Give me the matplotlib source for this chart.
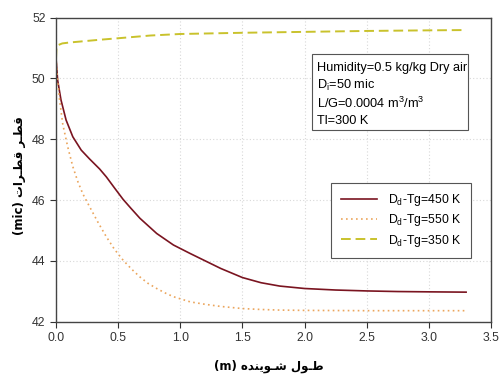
import matplotlib
matplotlib.use("Agg")
import matplotlib.pyplot as plt
from matplotlib.patches import Rectangle

plt.rcParams['font.family'] = ['Liberation Sans', 'DejaVu Sans']
plt.rcParams['mathtext.fontset'] = 'custom'
plt.rcParams['mathtext.rm'] = 'Liberation Sans'
plt.rcParams['mathtext.it'] = 'Liberation Sans:italic'

# Data
x_450 = [0, 0.013, 0.04, 0.081, 0.135, 0.203, 0.27, 0.351, 0.405, 0.47, 0.54, 0.6,
         0.675, 0.81, 0.945, 1.08, 1.2, 1.325, 1.5, 1.65, 1.8, 2.0, 2.25, 2.5, 2.75,
         3.0, 3.3]
d_450 = [50.66, 49.94, 49.29, 48.63, 48.08, 47.64, 47.35, 47.02, 46.76, 46.4, 46.02, 45.74,
         45.4, 44.9, 44.52, 44.24, 44.0, 43.75, 43.45, 43.28, 43.17, 43.09, 43.04, 43.01,
         42.99, 42.98, 42.97]

x_550 = [0, 0.013, 0.027, 0.054, 0.094, 0.135, 0.176, 0.216, 0.27, 0.34, 0.405, 0.47,
         0.54, 0.61, 0.675, 0.74, 0.81, 0.88, 0.945, 1.08, 1.2, 1.325, 1.5, 1.65, 1.8,
         2.0, 2.5, 3.0, 3.3]
d_550 = [50.66, 49.94, 49.35, 48.5, 47.75, 47.1, 46.6, 46.2, 45.78, 45.25, 44.79, 44.38,
         44.02, 43.72, 43.47, 43.26, 43.09, 42.94, 42.82, 42.65, 42.57, 42.5, 42.43, 42.4,
         42.38, 42.37, 42.36, 42.36, 42.36]

x_350 = [0, 0.004, 0.02, 0.05, 0.108, 0.19, 0.35, 0.5, 0.76, 1.0, 1.5, 2.0, 2.5, 3.0, 3.3]
d_350 = [50.66, 51.05, 51.1, 51.15, 51.18, 51.21, 51.27, 51.32, 51.41, 51.46, 51.5, 51.53,
         51.56, 51.58, 51.59]

labels = ['D$_\\mathrm{d}$-Tg=450 K', 'D$_\\mathrm{d}$-Tg=550 K', 'D$_\\mathrm{d}$-Tg=350 K']
info_lines = ['Humidity=0.5 kg/kg Dry air', 'D$_\\mathrm{i}$=50 mic',
              'L/G=0.0004 m$^3$/m$^3$', 'Tl=300 K']

# Persian labels, pre-shaped (presentation forms, visual order)
xlabel_fa = '(m) ' + '\uFEE9\uFEAA\uFEE8\uFEF3\uFEEE\u0640\uFEB7' + ' ' + '\uFEDD\uFEEE\u0640\uFEC3'
ylabel_fa = '(mic) ' + '\uFE95\uFE8D\uFEAE\u0640\uFEC4\uFED7' + ' ' + '\uFEAE\u0640\uFEC4\uFED7'

fig = plt.figure(figsize=(5.02, 3.82), dpi=100)
ax = fig.add_axes([0.1116, 0.158, 0.8664, 0.796])

ax.plot(x_450, d_450, color='#7a1420', lw=1.2, label=labels[0])
ax.plot(x_550, d_550, color='#eba55c', lw=1.2, linestyle=(0, (1, 2)), label=labels[1])
ax.plot(x_350, d_350, color='#c9c22c', lw=1.4, linestyle=(0, (5, 2.5)), label=labels[2])

ax.set_xlim(0, 3.5)
ax.set_ylim(42, 52)
ax.set_xticks([0, 0.5, 1.0, 1.5, 2.0, 2.5, 3.0, 3.5])
ax.set_yticks([42, 44, 46, 48, 50, 52])
ax.xaxis.set_major_formatter(matplotlib.ticker.FormatStrFormatter('%.1f'))
ax.tick_params(direction='out', length=4, labelsize=8.8, colors='#333333',
               top=False, right=False)
ax.grid(True, color='#d8d8d8', linestyle=(0, (1, 2)), lw=0.8)
for s in ax.spines.values():
    s.set_color('#444444')
    s.set_linewidth(1.0)

ax.set_xlabel(xlabel_fa, fontsize=8.5, fontweight='bold', family=['DejaVu Sans'])
ax.xaxis.set_label_coords(0.49, -0.125)
ax.set_ylabel(ylabel_fa, fontsize=8.5, fontweight='bold', family=['DejaVu Sans'])
ax.yaxis.set_label_coords(-0.07, 0.48)

leg = ax.legend(loc='upper right', bbox_to_anchor=(0.968, 0.476), fontsize=8.8,
                fancybox=False, framealpha=1, edgecolor='#555555', handlelength=3.0,
                borderpad=0.75, labelspacing=0.35, handletextpad=0.9)
leg.get_frame().set_linewidth(0.8)

ax.add_patch(Rectangle((0.589, 0.63), 0.358, 0.25, transform=ax.transAxes,
                       facecolor='white', edgecolor='#555555', lw=0.8, zorder=4))
for i, line in enumerate(info_lines):
    ax.text(0.6, 0.835 - i * 0.058, line, transform=ax.transAxes, fontsize=9.2,
            va='center', ha='left', zorder=5)

fig.savefig('out.png', dpi=100)
